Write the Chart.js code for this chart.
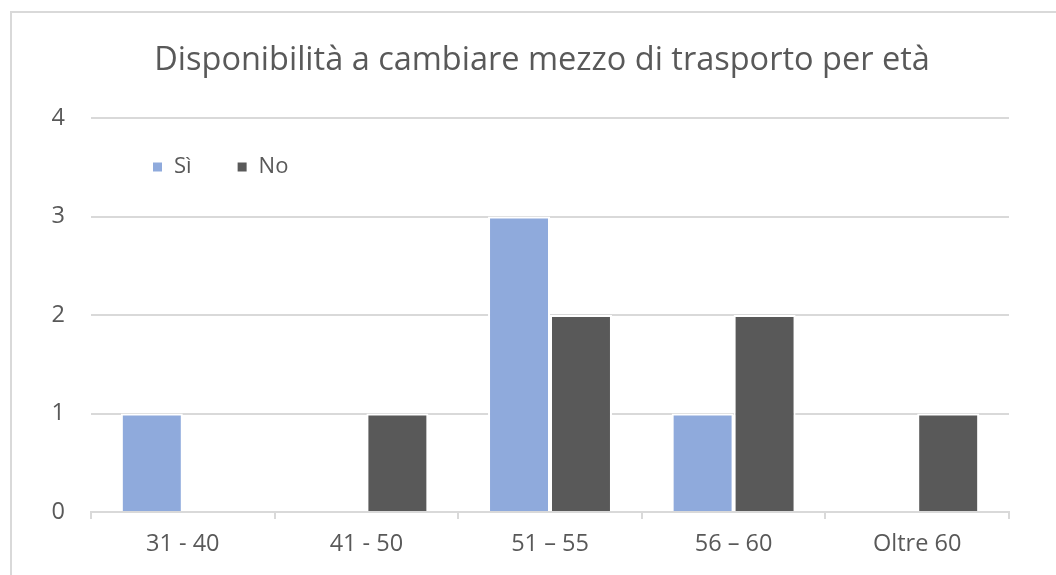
<!DOCTYPE html>
<html lang="it">
<head>
<meta charset="utf-8">
<title>Disponibilità a cambiare mezzo di trasporto per età</title>
<script src="https://cdn.jsdelivr.net/npm/chart.js@4"></script>
<style>
    html, body { margin: 0; padding: 0; background: #ffffff; overflow: hidden; }
    #frame { position: absolute; left: 10px; top: 11px; width: 1200px; height: 700px; border: 2px solid #d9d9d9; }
    #chart { position: absolute; left: 0; top: 0; }
</style>
</head>
<body>
<div id="frame"></div>
<canvas id="chart" width="1056" height="575"></canvas>
<script>
const categories = ['31 - 40', '41 - 50', '51 – 55', '56 – 60', 'Oltre 60'];
const siValues = [1, 0, 3, 1, 0];
const noValues = [0, 1, 2, 2, 1];
const yTicks = [0, 1, 2, 3, 4];

const textColor = '#595959';
const lineColor = '#d9d9d9';
const fontFamily = '"Open Sans", "Noto Sans", sans-serif';

// legend sits inside the plot near the top-left corner and takes no layout space;
// the title is centred on the whole frame, which runs past the right edge
const boxPlacer = {
    id: 'boxPlacer',
    beforeLayout(chart) {
        const legend = chart.legend;
        if (!legend || legend._flat) return;
        const fit = legend.fit;
        legend.fit = function () { fit.call(this); this.height = 0; };
        legend._flat = true;
    },
    afterLayout(chart) {
        const legend = chart.legend;
        if (legend) {
            legend.left = 107;
            legend.top = 111;
            legend.right = chart.chartArea.right;
            legend.bottom = 111 + 112;
        }
        const title = chart.titleBlock;
        if (title) {
            title.left = 0;
            title.right = 1084;
        }
    }
};

new Chart(document.getElementById('chart'), {
    type: 'bar',
    data: {
        labels: categories,
        datasets: [
            { label: 'Sì', data: siValues, backgroundColor: '#8faadc', borderColor: '#ffffff', borderWidth: 2, borderSkipped: 'start' },
            { label: 'No', data: noValues, backgroundColor: '#595959', borderColor: '#ffffff', borderWidth: 2, borderSkipped: 'start' }
        ]
    },
    options: {
        responsive: false,
        animation: false,
        datasets: { bar: { barPercentage: 1, categoryPercentage: 0.675 } },
        layout: { padding: { left: 0, right: 47, top: 0, bottom: 0 } },
        plugins: {
            title: {
                display: true,
                text: 'Disponibilità a cambiare mezzo di trasporto per età',
                color: textColor,
                font: { family: fontFamily, size: 32.5, weight: 'normal' },
                padding: { top: 41, bottom: 38 }
            },
            legend: {
                position: 'top',
                align: 'start',
                labels: {
                    color: textColor,
                    font: { family: fontFamily, size: 22 },
                    boxWidth: 11,
                    boxHeight: 11,
                    padding: 45
                }
            },
            tooltip: { enabled: false }
        },
        scales: {
            x: {
                grid: { display: true, drawOnChartArea: false, drawTicks: true, tickLength: 7, color: lineColor, lineWidth: 2 },
                border: { display: true, color: lineColor, width: 2 },
                ticks: { color: textColor, font: { family: fontFamily, size: 23.5 }, padding: 11 },
                afterFit(scale) { scale.height = 63; }
            },
            y: {
                min: 0,
                max: 4,
                afterBuildTicks(scale) { scale.ticks = yTicks.map(v => ({ value: v })); },
                grid: { color: lineColor, lineWidth: 2, drawTicks: false },
                border: { display: false },
                ticks: { color: textColor, font: { family: fontFamily, size: 23.5 }, padding: 26 },
                afterFit(scale) { scale.width = 91; }
            }
        }
    },
    plugins: [boxPlacer]
});
</script>
</body>
</html>
